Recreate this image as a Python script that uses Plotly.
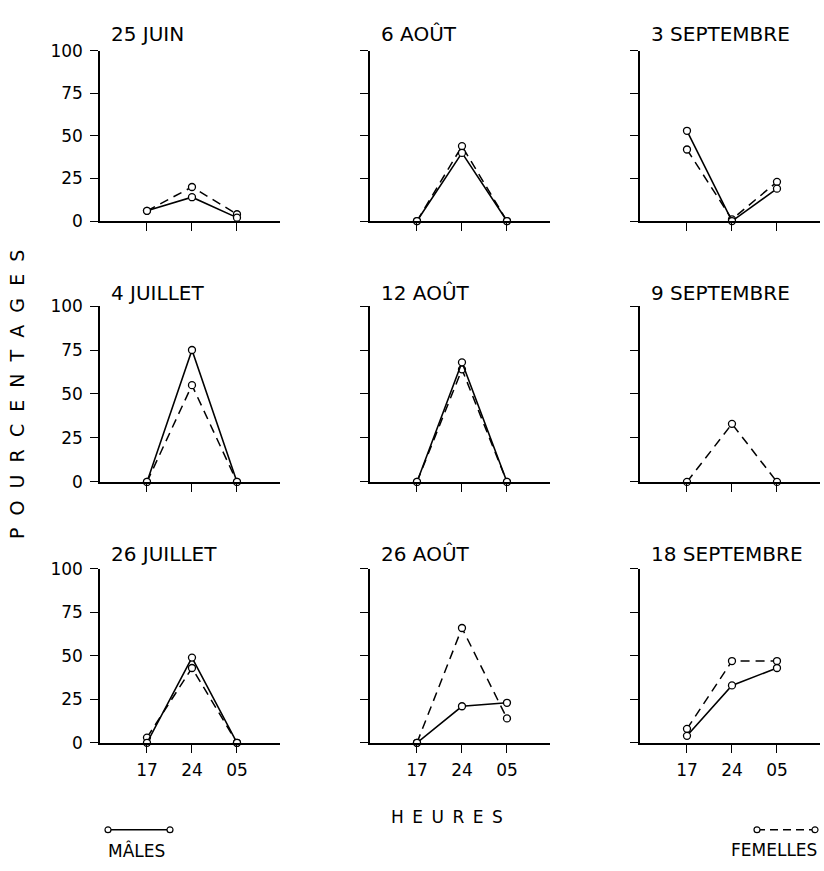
import plotly.graph_objects as go
from plotly.subplots import make_subplots

# Heures de relevé (abscisses)
hours = ["17", "24", "05"]

# Dates des séries, dans l'ordre des panneaux (ligne par ligne)
dates = ["25 JUIN", "6 AOÛT", "3 SEPTEMBRE",
         "4 JUILLET", "12 AOÛT", "9 SEPTEMBRE",
         "26 JUILLET", "26 AOÛT", "18 SEPTEMBRE"]

# Pourcentages des mâles (None : pas de série)
males = [
    [6, 14, 2],
    [0, 40, 0],
    [53, 0, 19],
    [0, 75, 0],
    [0, 68, 0],
    None,
    [0, 49, 0],
    [0, 21, 23],
    [4, 33, 43],
]

# Pourcentages des femelles
femelles = [
    [6, 20, 4],
    [0, 44, 0],
    [42, 1, 23],
    [0, 55, 0],
    [0, 64, 0],
    [0, 33, 0],
    [3, 43, 0],
    [0, 66, 14],
    [8, 47, 47],
]

y_ticks = [0, 25, 50, 75, 100]

W, H = 824, 871
FONT = "DejaVu Sans"
INK = "black"

# Pixel geometry of the 3x3 grid
col_left = [100, 370, 640]
col_width = 180
row_top = [41.7, 303, 572]
row_bottom = [216, 483, 750]
title_y = [25, 290, 557]


def px(x):
    return x / W


def py(y):
    return 1 - y / H


fig = make_subplots(rows=3, cols=3)

marker = dict(symbol="circle", size=7, color="white",
              line=dict(color=INK, width=1.3))

for i, date in enumerate(dates):
    r, c = divmod(i, 3)
    fig.add_trace(go.Scatter(
        x=hours, y=femelles[i], mode="lines+markers",
        line=dict(color=INK, width=1.5, dash="9px,6px"),
        marker=marker, cliponaxis=False, showlegend=False,
        name="FEMELLES"), row=r + 1, col=c + 1)
    if males[i] is not None:
        fig.add_trace(go.Scatter(
            x=hours, y=males[i], mode="lines+markers",
            line=dict(color=INK, width=1.6),
            marker=marker, cliponaxis=False, showlegend=False,
            name="MÂLES"), row=r + 1, col=c + 1)

    fig.update_xaxes(
        domain=[px(col_left[c]), px(col_left[c] + col_width)],
        type="category", categoryorder="array", categoryarray=hours,
        range=[-1.044, 2.956],
        showline=True, linecolor=INK, linewidth=1.5,
        ticks="outside", ticklen=8, tickwidth=1.3, tickcolor=INK,
        showticklabels=(r == 2), ticklabelstandoff=3,
        tickfont=dict(family=FONT, size=17, color=INK),
        showgrid=False, zeroline=False, fixedrange=True,
        row=r + 1, col=c + 1)
    fig.update_yaxes(
        domain=[py(row_bottom[r]), py(row_top[r])],
        range=[0, 100], tickvals=y_ticks,
        showline=True, linecolor=INK, linewidth=1.5,
        ticks="outside", ticklen=8, tickwidth=1.3, tickcolor=INK,
        showticklabels=(c == 0), ticklabelstandoff=4,
        tickfont=dict(family=FONT, size=17, color=INK),
        showgrid=False, zeroline=False, fixedrange=True,
        row=r + 1, col=c + 1)

    fig.add_annotation(
        text=date, xref="paper", yref="paper",
        x=px(col_left[c] + 9), y=py(title_y[r]),
        xanchor="left", yanchor="middle", showarrow=False,
        font=dict(family=FONT, size=20, color=INK))

# Axis titles
sp = "\u00a0\u00a0"
fig.add_annotation(
    text=sp.join("POURCENTAGES"), xref="paper", yref="paper",
    x=px(17), y=py(394), textangle=-90,
    xanchor="center", yanchor="middle", showarrow=False,
    font=dict(family=FONT, size=19, color=INK))
fig.add_annotation(
    text="\u2002".join("HEURES"), xref="paper", yref="paper",
    x=px(447), y=py(826), xanchor="center", yanchor="middle",
    showarrow=False, font=dict(family=FONT, size=17, color=INK))

# Legend keys: line sample with open circles at both ends
shapes = []
legend_y = 839
for (x0, x1, dash) in [(108, 170, "solid"), (757, 815, "dash")]:
    shapes.append(dict(type="line", xref="paper", yref="paper",
                       x0=px(x0), x1=px(x1), y0=py(legend_y), y1=py(legend_y),
                       line=dict(color=INK, width=1.4,
                                 dash="solid" if dash == "solid" else "8px,5px")))
    for xc in (x0, x1):
        shapes.append(dict(type="circle", xref="paper", yref="paper",
                           x0=px(xc - 3), x1=px(xc + 3),
                           y0=py(legend_y + 3), y1=py(legend_y - 3),
                           fillcolor="white", line=dict(color=INK, width=1.2)))

fig.add_annotation(
    text="MÂLES", xref="paper", yref="paper", x=px(106), y=py(860),
    xanchor="left", yanchor="middle", showarrow=False,
    font=dict(family=FONT, size=17, color=INK))
fig.add_annotation(
    text="FEMELLES", xref="paper", yref="paper", x=px(819), y=py(860),
    xanchor="right", yanchor="middle", showarrow=False,
    font=dict(family=FONT, size=17, color=INK))

fig.update_layout(
    width=W, height=H, autosize=False,
    margin=dict(l=0, r=0, t=0, b=0),
    paper_bgcolor="white", plot_bgcolor="white",
    shapes=shapes, showlegend=False,
    font=dict(family=FONT, color=INK),
)

fig.write_html("out.html")
